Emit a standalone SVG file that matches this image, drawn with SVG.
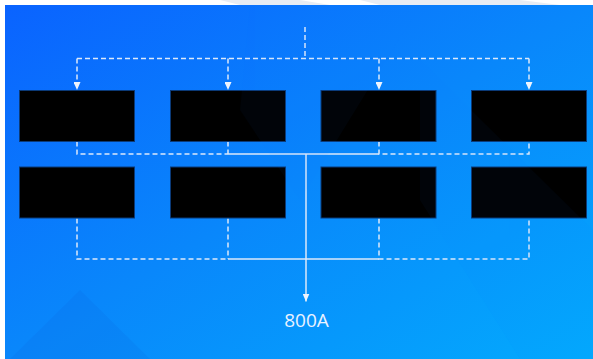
<svg xmlns="http://www.w3.org/2000/svg" width="593" height="359" viewBox="0 0 593 359">
  <defs>
    <linearGradient id="bg" x1="0" y1="0" x2="1" y2="1">
      <stop offset="0" stop-color="#0a63ff"/>
      <stop offset="0.5" stop-color="#0987fb"/>
      <stop offset="1" stop-color="#03aafd"/>
    </linearGradient>
    <marker id="tri" viewBox="0 0 8 7" refX="8" refY="3.5" markerWidth="8" markerHeight="7" markerUnits="userSpaceOnUse" orient="auto">
      <path d="M0,0 L8,3.5 L0,7 Z" fill="#eef4fd"/>
    </marker>
    <style>
      .box { fill: #000; stroke: #0b3a78; stroke-width: 1; }
      .dash { fill: none; stroke: #dde9fa; stroke-width: 1.5; stroke-dasharray: 5 3; }
      .solid { fill: none; stroke: #dde9fa; stroke-width: 1.5; }
      .lbl { font-family: "Open Sans", "Noto Sans", sans-serif; font-size: 19px; fill: #eaf2ff; }
    </style>
  </defs>

  <!-- page frame and backdrop -->
  <rect x="0" y="0" width="593" height="359" fill="#ffffff"/>
  <polygon points="220,0 300,0 330,5 240,5" fill="#e8ecf3"/>
  <polygon points="360,0 520,0 560,5 380,5" fill="#e8ecf3"/>
  <rect x="5" y="5" width="588" height="354" fill="url(#bg)"/>
  <g fill="#0a4fd0" opacity="0.1">
    <polygon points="10,359 80,290 150,359"/>
  </g>

  <!-- connectors -->
  <g id="connectors">
    <!-- feed from top, split to first row -->
    <path class="dash" d="M305,27 V58.5"/>
    <path class="dash" d="M77,58.5 H529"/>
    <path class="dash" d="M77,58.5 V90" marker-end="url(#tri)"/>
    <path class="dash" d="M228,58.5 V90" marker-end="url(#tri)"/>
    <path class="dash" d="M379,58.5 V90" marker-end="url(#tri)"/>
    <path class="dash" d="M529,58.5 V90" marker-end="url(#tri)"/>

    <!-- first row collector -->
    <path class="dash" d="M77,141.5 V154 H228"/>
    <path class="dash" d="M228,141.5 V154"/>
    <path class="solid" d="M228,154 H379"/>
    <path class="dash" d="M379,141.5 V154 H529 V141.5"/>

    <!-- second row collector -->
    <path class="dash" d="M77,218.5 V259 H228"/>
    <path class="dash" d="M228,218.5 V259"/>
    <path class="solid" d="M228,259 H379"/>
    <path class="dash" d="M379,218.5 V259 H529 V218.5"/>

    <!-- main output -->
    <path class="solid" d="M306,154 V301.5" marker-end="url(#tri)"/>
  </g>

  <!-- first row -->
  <g id="n1"><rect class="box" x="19.5" y="90.5" width="115" height="51"/></g>
  <g id="n2"><rect class="box" x="170.5" y="90.5" width="115" height="51"/></g>
  <g id="n3"><rect class="box" x="321" y="90.5" width="115" height="51"/></g>
  <g id="n4"><rect class="box" x="471.5" y="90.5" width="115" height="51"/></g>

  <!-- second row -->
  <g id="n5"><rect class="box" x="19.5" y="167" width="115" height="51"/></g>
  <g id="n6"><rect class="box" x="170.5" y="167" width="115" height="51"/></g>
  <g id="n7"><rect class="box" x="321" y="167" width="115" height="51"/></g>
  <g id="n8"><rect class="box" x="471.5" y="167" width="115" height="51"/></g>

  <!-- faint diagonal sheen over the panel -->
  <g fill="#1e7fff" opacity="0.035">
    <polygon points="250,5 420,5 300,200 240,110"/>
    <polygon points="420,60 593,230 593,359 520,359 420,200"/>
  </g>

  <g id="out">
    <text class="lbl" x="306.5" y="326.5" text-anchor="middle">800A</text>
  </g>
</svg>
